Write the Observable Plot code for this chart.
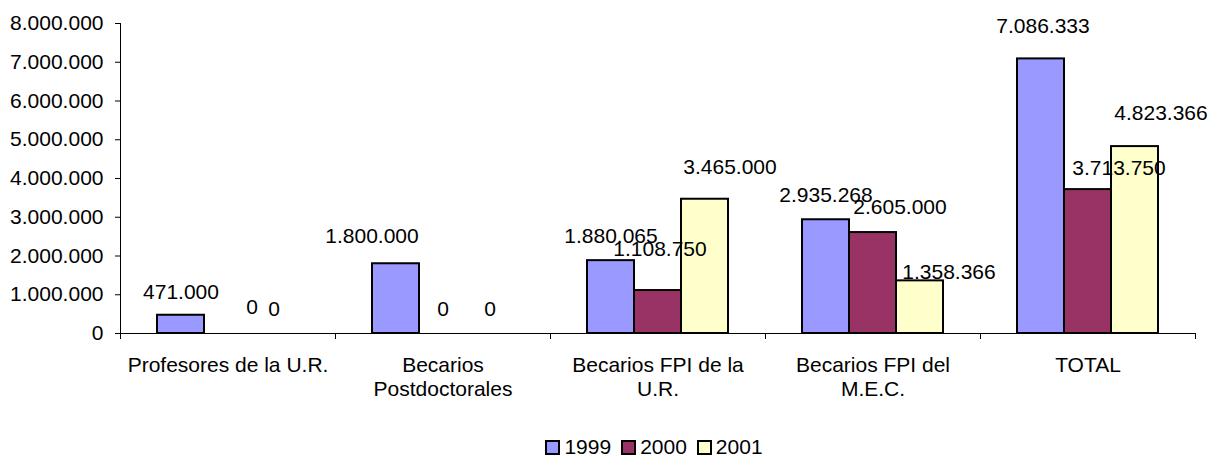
<!DOCTYPE html>
<html>
<head>
<meta charset="utf-8">
<script src="https://cdn.jsdelivr.net/npm/d3@7"></script>
<script src="https://cdn.jsdelivr.net/npm/@observablehq/plot@0.6"></script>
<style>
  html, body { margin: 0; padding: 0; background: #fff; }
  #chart { width: 1214px; }
  .legend { display: flex; justify-content: center; align-items: center; gap: 10px;
    font: 21px "Liberation Sans", Arial, sans-serif; color: #000; line-height: 20px; padding-left: 94px; }
  .legend span.item { display: inline-flex; align-items: center; gap: 4px; }
  .legend i { display: inline-block; width: 11px; height: 11px; border: 2px solid #000; }
</style>
</head>
<body>
<div id="chart"></div>
<script>
const categories = ["Profesores de la U.R.", "Becarios Postdoctorales", "Becarios FPI de la U.R.", "Becarios FPI del M.E.C.", "TOTAL"];
const categoryLabels = ["Profesores de la U.R.", "Becarios\nPostdoctorales", "Becarios FPI de la\nU.R.", "Becarios FPI del\nM.E.C.", "TOTAL"];
const years = ["1999", "2000", "2001"];
const values1999 = [471000, 1800000, 1880065, 2935268, 7086333];
const values2000 = [0, 0, 1108750, 2605000, 3713750];
const values2001 = [0, 0, 3465000, 1358366, 4823366];
const yTicks = [0, 1000000, 2000000, 3000000, 4000000, 5000000, 6000000, 7000000, 8000000];
const colors = ["#9999FF", "#993366", "#FFFFCC"];
// label offsets (px) as placed in the original chart, [dx, dy] per category per year
const labelOffsets = [
  [[0, -23], [24, -26], [-1, -24]],
  [[-24, -27], [0, -24], [0, -24]],
  [[0, -24], [2, -41], [25, -32]],
  [[0, -24], [27, -25], [29, -9]],
  [[2, -33], [31, -21], [26, -33]]
];

const series = [values1999, values2000, values2001];
const rows = [];
categories.forEach((c, i) => years.forEach((y, j) => rows.push({cat: c, year: y, value: series[j][i], dx: labelOffsets[i][j][0], dy: labelOffsets[i][j][1]})));

const loc = d3.formatLocale({decimal: ",", thousands: ".", grouping: [3], currency: ["", "€"]});
const fmt = loc.format(",d");
const labelMap = new Map(categories.map((c, i) => [c, categoryLabels[i]]));

const FONT = '"Liberation Sans", Arial, sans-serif';
const H = 437;
const plot = Plot.plot({
  width: 1214,
  height: H,
  marginLeft: 119,
  marginRight: 18,
  marginTop: 23,
  marginBottom: H - 333,
  style: {fontFamily: FONT, fontSize: "21px", color: "#000", background: "#fff"},
  fx: {domain: categories, padding: 0},
  x: {domain: years, paddingInner: 0, paddingOuter: 0.744, axis: null},
  y: {domain: [0, 8000000]},
  color: {domain: years, range: colors},
  marks: [
    Plot.frame({anchor: "left", facetAnchor: "left", stroke: "#000", strokeWidth: 1}),
    Plot.frame({anchor: "left", insetTop: 310, insetBottom: -5, stroke: "#000", strokeWidth: 1}),
    Plot.frame({anchor: "right", insetTop: 310, insetBottom: -5, stroke: "#000", strokeWidth: 1}),
    Plot.axisY({ticks: yTicks, tickFormat: fmt, tickSize: 5, tickPadding: 12, label: null, fontSize: 21}),
    Plot.axisFx({anchor: "bottom", tickSize: 0, tickPadding: 21, tickFormat: d => labelMap.get(d), lineHeight: 1.15, label: null, fontSize: 21}),
    Plot.barY(rows.filter(d => d.value > 0), {fx: "cat", x: "year", y: "value", fill: "year", stroke: "#000", strokeWidth: 2}),
    Plot.ruleY([0], {stroke: "#000", strokeWidth: 1}),
    ...rows.map(r => Plot.text([r], {fx: "cat", x: "year", y: "value", text: d => fmt(d.value), dx: r.dx, dy: r.dy, fontSize: 21, fill: "#000"}))
  ]
});
document.getElementById("chart").appendChild(plot);

const legend = document.createElement("div");
legend.className = "legend";
years.forEach((y, j) => {
  const s = document.createElement("span");
  s.className = "item";
  const sw = document.createElement("i");
  sw.style.background = colors[j];
  s.appendChild(sw);
  s.appendChild(document.createTextNode(y));
  legend.appendChild(s);
});
document.getElementById("chart").appendChild(legend);
</script>
</body>
</html>
